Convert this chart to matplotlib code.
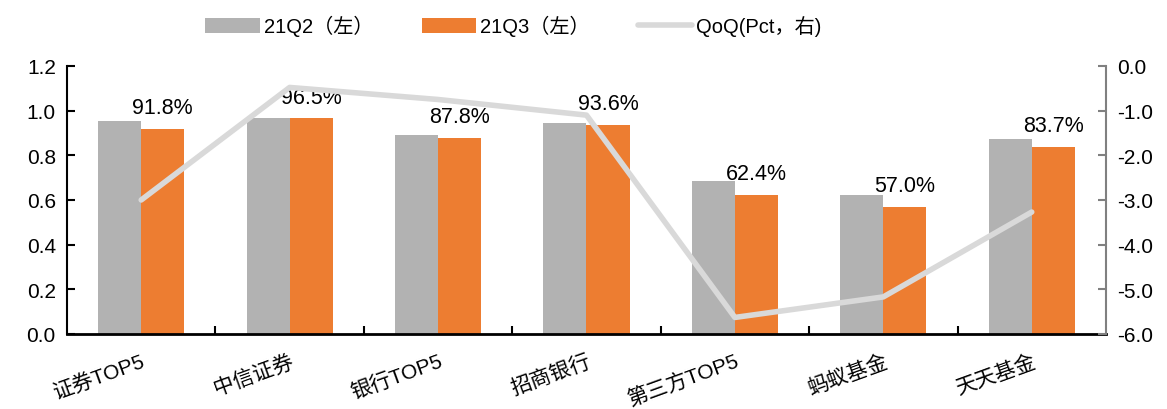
import matplotlib
matplotlib.use("Agg")
import matplotlib.pyplot as plt
import numpy as np

plt.rcParams.update({
    "font.family": ["Liberation Sans", "Noto Sans CJK SC", "DejaVu Sans"],
    "font.size": 15,
    "axes.unicode_minus": False,
})

# ── Data ─────────────────────────────────────────────────────────────────────
categories = ["证券TOP5", "中信证券", "银行TOP5", "招商银行", "第三方TOP5", "蚂蚁基金", "天天基金"]
q2 = [0.952, 0.968, 0.892, 0.946, 0.683, 0.622, 0.874]
q3 = [0.918, 0.965, 0.878, 0.936, 0.624, 0.570, 0.837]
qoq = [-3.0, -0.48, -0.75, -1.1, -5.63, -5.17, -3.27]

GRAY = "#B2B2B2"
ORANGE = "#ED7D31"
LINE = "#D9D9D9"

fig = plt.figure(figsize=(11.67, 4.10), dpi=100)
ax = fig.add_axes([0.0574, 0.183, 0.8903, 0.6536])
ax2 = ax.twinx()

x = np.arange(len(categories))
w = 0.29
b1 = ax.bar(x - w / 2, q2, width=w, color=GRAY, label="21Q2（左）", zorder=2)
b2 = ax.bar(x + w / 2, q3, width=w, color=ORANGE, label="21Q3（左）", zorder=2)

for xi, v in zip(x, q3):
    ax.text(xi + w / 2, v + 0.095, f"{v * 100:.1f}%", ha="center", va="center", fontsize=15.5)

ln, = ax2.plot(x, qoq, color=LINE, linewidth=4, solid_capstyle="round",
               label="QoQ(Pct，右)", zorder=3)

ax.set_xlim(-0.5, len(categories) - 0.5)
ax.set_ylim(0, 1.2)
ax.set_yticks(np.arange(0, 1.21, 0.2))
ax.set_yticklabels([f"{v:.1f}" for v in np.arange(0, 1.21, 0.2)])
ax2.set_ylim(-6, 0)
ax2.set_yticks(np.arange(-6, 0.1, 1))
ax2.set_yticklabels([f"{v:.1f}" for v in np.arange(-6, 0.1, 1)])

ax.set_xticks(x)
ax.set_xticklabels(categories, rotation=20, ha="right", rotation_mode="anchor")
ax.tick_params(axis="x", length=0, pad=12)
ax.set_xticks(np.arange(0.5, len(categories) - 0.5), minor=True)
ax.tick_params(axis="x", which="minor", direction="in", length=6, width=1.5)

ax.tick_params(axis="y", direction="in", length=6, width=1.5, pad=8)
ax2.tick_params(axis="y", direction="in", length=6, width=1.5, color="#808080", pad=8)

for s in ["top", "right"]:
    ax.spines[s].set_visible(False)
ax2.spines["top"].set_visible(False)
ax2.spines["left"].set_visible(False)
ax2.spines["bottom"].set_visible(False)
ax2.spines["right"].set_color("#808080")
ax2.spines["right"].set_linewidth(1.5)
ax.spines["left"].set_linewidth(1.5)
ax.spines["bottom"].set_linewidth(2)

ax.set_zorder(1)
ax2.set_zorder(2)
ax2.patch.set_visible(False)

fig.legend(handles=[b1, b2, ln], loc="center", bbox_to_anchor=(0.44, 0.935),
           ncol=3, frameon=False, fontsize=14.5, handlelength=2.7,
           handleheight=0.8, columnspacing=2.4, handletextpad=0.2)

fig.savefig("out.png", dpi=100)
